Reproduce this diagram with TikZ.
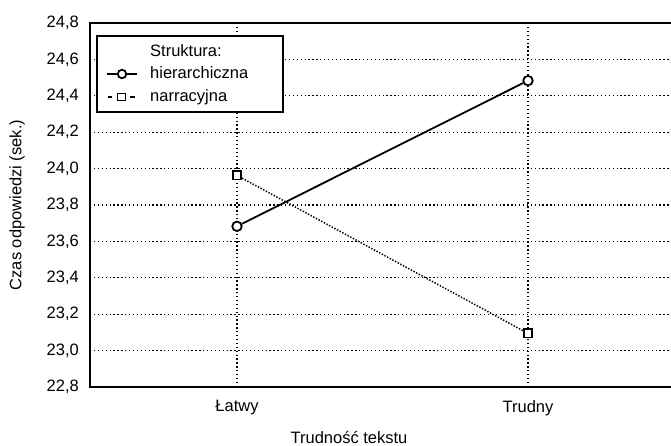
\documentclass[tikz,border=0pt]{standalone}
\usepackage{fontspec}
\setmainfont{Liberation Sans}
\begin{document}
\begin{tikzpicture}[x=1pt,y=-1pt,
  lbl/.style={font=\fontsize{16.5}{19}\selectfont, inner sep=0pt},
  grid/.style={line width=1.3pt, dash pattern=on 1.3pt off 2.6pt},
  axis/.style={line width=2pt},
  circmark/.style={circle, draw, line width=1.8pt, fill=white, minimum size=9.5pt, inner sep=0pt},
  sqmark/.style={rectangle, draw, line width=1.6pt, fill=white, minimum size=8.5pt, inner sep=0pt},
  serh/.style={line width=1.8pt},
  sern/.style={line width=1.5pt, dash pattern=on 1.4pt off 1.6pt}]
\useasboundingbox (0,0) rectangle (671,445);
% gridlines
\foreach \v/\y in {23.0/350.6,23.2/314.2,23.4/277.8,23.6/241.4,23.8/205,24.0/168.6,24.2/132.2,24.4/95.8,24.6/59.4}{
  \draw[grid] (90,\y) -- (671,\y);
}
\draw[grid] (237,23) -- (237,387);
\draw[grid] (528,23) -- (528,387);
% axes
\draw[axis] (90,23) -- (671,23);
\draw[axis] (90,387) -- (671,387);
\draw[axis] (90,22) -- (90,388);
% tick labels
\foreach \t/\y [count=\i] in {22{,}8/387,23{,}0/350.6,23{,}2/314.2,23{,}4/277.8,23{,}6/241.4,23{,}8/205,24{,}0/168.6,24{,}2/132.2,24{,}4/95.8,24{,}6/59.4,24{,}8/23}{
  \node[lbl, anchor=east] (yt\i) at (79,\y) {\t};
}
\node[lbl] (xl1) at (237,408) {Łatwy};
\node[lbl] (xl2) at (528,408) {Trudny};
\node[lbl] (xlab) at (349,437) {Trudność tekstu};
\node[lbl, rotate=90] (ylab) at (17,205) {Czas odpowiedzi (sek.)};
% series
\node[sqmark] (n1) at (237,175.4) {};
\node[sqmark] (n2) at (528,333.4) {};
\node[circmark] (h1) at (237,226.3) {};
\node[circmark] (h2) at (528,80.6) {};
\draw[sern] (n1) -- (n2);
\draw[serh] (h1) -- (h2);
% legend
\draw[line width=1.8pt, fill=white] (97,36) rectangle (283,112);
\node[lbl, anchor=west] (lt) at (150,51) {Struktura:};
\node[lbl, anchor=west] (lh) at (150,73) {hierarchiczna};
\node[lbl, anchor=west] (ln) at (150,97) {narracyjna};
\coordinate (lha) at (107,74);
\coordinate (lhb) at (137,74);
\node[circmark, minimum size=8.5pt] (lhc) at (122,74) {};
\draw[serh] (lha) -- (lhc) -- (lhb);
\coordinate (lna) at (108,97);
\coordinate (lnb) at (135,97);
\node[sqmark, minimum size=7.5pt, line width=1.4pt] (lnc) at (121.5,97) {};
\draw[line width=1.5pt] (lna) -- ++(4,0);
\draw[line width=1.5pt] (lnb) -- ++(-5,0);
\end{tikzpicture}
\end{document}
